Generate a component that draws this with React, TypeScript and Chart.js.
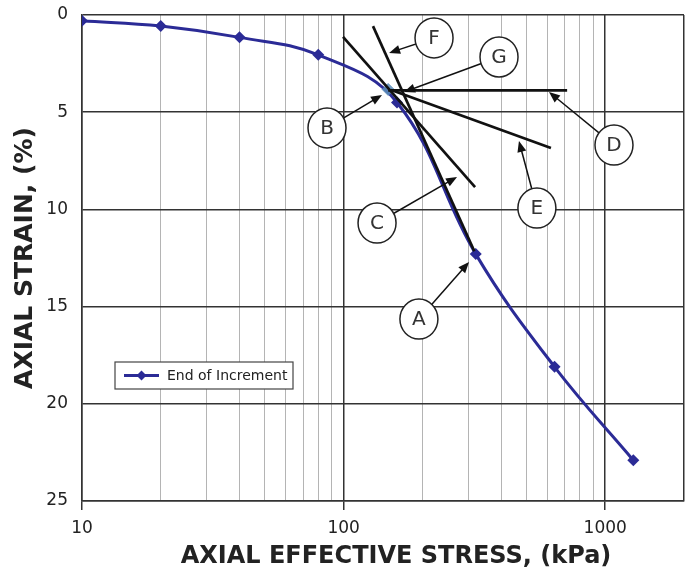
import React, { useEffect, useRef } from "react";
import { Chart, registerables } from "chart.js";

Chart.register(...registerables);

// ---- Data ----
const stressKPa = [10, 20, 40, 80, 160, 320, 640, 1280];
const strainPct = [0.3, 0.57, 1.15, 2.05, 4.5, 12.3, 18.1, 22.9];

// Point of maximum curvature (B)
const pointB = { x: 148, y: 3.83 };

// Construction lines (data coordinates)
const lineF = [{ x: 129.5, y: 0.57 }, { x: 316, y: 12.15 }];
const lineC = [{ x: 99.5, y: 1.13 }, { x: 318, y: 8.85 }];
const lineE = [{ x: 152, y: 3.86 }, { x: 620, y: 6.84 }];
const lineD = [{ x: 148, y: 3.88 }, { x: 715, y: 3.88 }];

// Callout labels: letter, circle centre, arrow tip (data coordinates)
const calloutLetters = ["A", "B", "C", "D", "E", "F", "G"];
const calloutCentres = [
  { x: 194, y: 15.64 },
  { x: 86.4, y: 5.81 },
  { x: 134.2, y: 10.7 },
  { x: 1080, y: 6.69 },
  { x: 548, y: 9.93 },
  { x: 221.6, y: 1.18 },
  { x: 392.6, y: 2.16 },
];
const calloutTips = [
  { x: 301.6, y: 12.71 },
  { x: 140.2, y: 4.12 },
  { x: 271.4, y: 8.33 },
  { x: 609.5, y: 3.96 },
  { x: 468, y: 6.48 },
  { x: 149.2, y: 1.95 },
  { x: 170.2, y: 3.96 },
];

const xTickValues = [10, 20, 30, 40, 50, 60, 70, 80, 90, 100, 200, 300, 400, 500, 600, 700, 800, 900, 1000, 2000];
const xLabelledTicks = [10, 100, 1000];
const xMajorLines = [10, 100, 1000, 2000];
const yTickValues = [0, 5, 10, 15, 20, 25];

const seriesLabel = "End of Increment";
const xTitle = "AXIAL EFFECTIVE STRESS, (kPa)";
const yTitle = "AXIAL STRAIN, (%)";

const BLUE = "#2b2b96";
const FONT = "'DejaVu Sans', Verdana, sans-serif";

const calloutPlugin = {
  id: "callouts",
  afterDatasetsDraw(chart: any) {
    const { ctx, scales } = chart;
    const xs = scales.x;
    const ys = scales.y;
    ctx.save();
    // arrows
    for (let i = 0; i < calloutLetters.length; i++) {
      const cx = xs.getPixelForValue(calloutCentres[i].x);
      const cy = ys.getPixelForValue(calloutCentres[i].y);
      const tx = xs.getPixelForValue(calloutTips[i].x);
      const ty = ys.getPixelForValue(calloutTips[i].y);
      const ang = Math.atan2(ty - cy, tx - cx);
      ctx.strokeStyle = "#111";
      ctx.fillStyle = "#111";
      ctx.lineWidth = 1.5;
      ctx.beginPath();
      ctx.moveTo(cx, cy);
      ctx.lineTo(tx - Math.cos(ang) * 8, ty - Math.sin(ang) * 8);
      ctx.stroke();
      const L = 11;
      const W = 4.5;
      ctx.beginPath();
      ctx.moveTo(tx, ty);
      ctx.lineTo(tx - Math.cos(ang) * L - Math.sin(ang) * W, ty - Math.sin(ang) * L + Math.cos(ang) * W);
      ctx.lineTo(tx - Math.cos(ang) * L + Math.sin(ang) * W, ty - Math.sin(ang) * L - Math.cos(ang) * W);
      ctx.closePath();
      ctx.fill();
    }
    // circles
    for (let i = 0; i < calloutLetters.length; i++) {
      const cx = xs.getPixelForValue(calloutCentres[i].x);
      const cy = ys.getPixelForValue(calloutCentres[i].y);
      ctx.beginPath();
      ctx.ellipse(cx, cy, 19, 20, 0, 0, Math.PI * 2);
      ctx.fillStyle = "#fff";
      ctx.fill();
      ctx.lineWidth = 1.5;
      ctx.strokeStyle = "#222";
      ctx.stroke();
      ctx.fillStyle = "#333";
      ctx.font = `20px ${FONT}`;
      ctx.textAlign = "center";
      ctx.textBaseline = "middle";
      ctx.fillText(calloutLetters[i], cx, cy + 1);
    }
    // legend box
    const ca = chart.chartArea;
    const lx = ca.left + 33;
    const ly = ca.top + 347;
    const lw = 178;
    const lh = 27;
    ctx.fillStyle = "#fff";
    ctx.fillRect(lx, ly, lw, lh);
    ctx.strokeStyle = "#444";
    ctx.lineWidth = 1.2;
    ctx.strokeRect(lx, ly, lw, lh);
    ctx.strokeStyle = BLUE;
    ctx.lineWidth = 3;
    ctx.beginPath();
    ctx.moveTo(lx + 9, ly + lh / 2);
    ctx.lineTo(lx + 44, ly + lh / 2);
    ctx.stroke();
    ctx.fillStyle = BLUE;
    ctx.beginPath();
    const mx = lx + 26.5;
    const my = ly + lh / 2;
    ctx.moveTo(mx, my - 5);
    ctx.lineTo(mx + 5, my);
    ctx.lineTo(mx, my + 5);
    ctx.lineTo(mx - 5, my);
    ctx.closePath();
    ctx.fill();
    ctx.fillStyle = "#222";
    ctx.font = `14px ${FONT}`;
    ctx.textAlign = "left";
    ctx.textBaseline = "middle";
    ctx.fillText(seriesLabel, lx + 52, my + 1);

    // x-axis title (slightly right of centre, as in the original)
    ctx.fillStyle = "#222";
    ctx.font = `bold 24px ${FONT}`;
    ctx.textAlign = "center";
    ctx.textBaseline = "middle";
    ctx.fillText(xTitle, (ca.left + ca.right) / 2 + 13, ca.bottom + 56);
    ctx.restore();
  },
};

function blackLine(pts: { x: number; y: number }[]) {
  return {
    type: "line" as const,
    data: pts,
    borderColor: "#111",
    borderWidth: 2.7,
    pointRadius: 0,
    tension: 0,
    order: 0,
  };
}

export default function App() {
  const ref = useRef<HTMLCanvasElement | null>(null);
  useEffect(() => {
    if (!ref.current) return;
    const chart = new Chart(ref.current, {
      type: "line",
      data: {
        datasets: [
          blackLine(lineF),
          blackLine(lineC),
          blackLine(lineE),
          blackLine(lineD),
          {
            label: "B",
            data: [pointB],
            pointStyle: "rectRot",
            pointRadius: 6,
            backgroundColor: "rgba(90,140,185,0.85)",
            borderColor: "rgba(90,140,185,0.85)",
            showLine: false,
            order: 1,
          } as any,
          {
            label: seriesLabel,
            data: stressKPa.map((x, i) => ({ x, y: strainPct[i] })),
            borderColor: BLUE,
            backgroundColor: BLUE,
            borderWidth: 3,
            pointStyle: "rectRot",
            pointRadius: 6,
            pointBorderWidth: 0,
            tension: 0.4,
            order: 2,
          },
        ],
      },
      options: {
        animation: false,
        responsive: false,
        maintainAspectRatio: false,
        layout: { padding: { top: 15, right: 7, left: 0, bottom: 0 } },
        plugins: { legend: { display: false }, tooltip: { enabled: false } },
        scales: {
          x: {
            type: "logarithmic",
            min: 10,
            max: 2000,
            afterBuildTicks: (scale: any) => {
              scale.ticks = xTickValues.map((v) => ({ value: v, major: xMajorLines.includes(v) }));
            },
            afterFit: (scale: any) => {
              scale.height = 80;
              scale.paddingLeft = 0;
              scale.paddingRight = 0;
            },
            ticks: {
              autoSkip: false,
              maxRotation: 0,
              padding: 8,
              color: "#222",
              font: { family: FONT, size: 17 },
              callback: (v: any) => (xLabelledTicks.includes(Number(v)) ? String(v) : ""),
            },
            grid: {
              color: (c: any) => (xMajorLines.includes(c.tick?.value) ? "#333" : "#b4b4b4"),
              lineWidth: (c: any) => (xMajorLines.includes(c.tick?.value) ? 1.5 : 1),
              tickColor: (c: any) => (xLabelledTicks.includes(c.tick?.value) ? "#333" : "rgba(0,0,0,0)"),
              tickLength: 9,
            },
            border: { display: true, color: "#333", width: 1.5 },
            title: { display: false },
          },
          y: {
            type: "linear",
            reverse: true,
            min: 0,
            max: 25,
            afterBuildTicks: (scale: any) => {
              scale.ticks = yTickValues.map((v) => ({ value: v }));
            },
            afterFit: (scale: any) => {
              scale.width = 82;
              scale.paddingTop = 0;
              scale.paddingBottom = 0;
            },
            ticks: {
              padding: 14,
              color: "#222",
              font: { family: FONT, size: 17 },
            },
            grid: { color: "#333", lineWidth: 1.5, drawTicks: false },
            border: { display: true, color: "#333", width: 1.5 },
            title: {
              display: true,
              text: yTitle,
              color: "#222",
              font: { family: FONT, size: 25, weight: "bold" },
              padding: { top: 10, bottom: 0 },
            },
          },
        },
      },
      plugins: [calloutPlugin],
    } as any);
    return () => chart.destroy();
  }, []);
  return (
    <div style={{ position: "fixed", left: 0, top: 0, width: 691, height: 581, background: "#fff" }}>
      <canvas ref={ref} width={691} height={581} style={{ width: 691, height: 581 }} />
    </div>
  );
}
